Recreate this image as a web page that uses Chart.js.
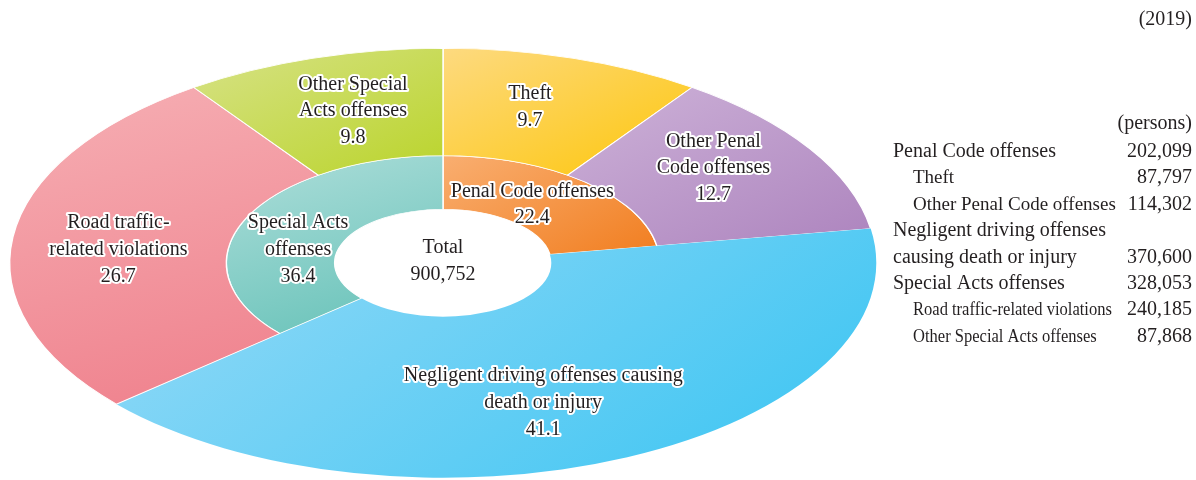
<!DOCTYPE html>
<html>
<head>
<meta charset="utf-8">
<title>Offenders by offense type (2019)</title>
<script src="https://cdn.jsdelivr.net/npm/chart.js@4/dist/chart.umd.min.js"></script>
<style>
  html, body { margin: 0; padding: 0; background: #ffffff; }
  canvas { display: block; }
</style>
</head>
<body>
<canvas id="chart" width="1196" height="480"></canvas>
<script>
// ---- data ---------------------------------------------------------------
const yearLabel = '(2019)';
const unitLabel = '(persons)';

// outer ring: breakdown
const outerCategories = [
  'Theft',
  'Other Penal Code offenses',
  'Negligent driving offenses causing death or injury',
  'Road traffic-related violations',
  'Other Special Acts offenses'
];
const outerValues = [87797, 114302, 370600, 240185, 87868];

// inner ring: main groups
const innerCategories = [
  'Penal Code offenses',
  'Negligent driving offenses causing death or injury',
  'Special Acts offenses'
];
const innerValues = [202099, 370600, 328053];

// text shown on each slice (percentage line is appended)
const outerLabelLines = [
  ['Theft'],
  ['Other Penal', 'Code offenses'],
  ['Negligent driving offenses causing', 'death or injury'],
  ['Road traffic-', 'related violations'],
  ['Other Special', 'Acts offenses']
];
const innerLabelLines = [
  ['Penal Code offenses'],
  null,
  ['Special Acts', 'offenses']
];

// side table
const tableRows = [
  { text: 'Penal Code offenses',             value: innerValues[0], level: 0 },
  { text: 'Theft',                           value: outerValues[0], level: 1 },
  { text: 'Other Penal Code offenses',       value: outerValues[1], level: 1 },
  { text: 'Negligent driving offenses',      value: null,           level: 0 },
  { text: 'causing death or injury',         value: innerValues[1], level: 0 },
  { text: 'Special Acts offenses',           value: innerValues[2], level: 0 },
  { text: 'Road traffic-related violations', value: outerValues[3], level: 2 },
  { text: 'Other Special Acts offenses',     value: outerValues[4], level: 2 }
];

// ---- styling ------------------------------------------------------------
const SHARED = 'Negligent driving offenses causing death or injury';
const palette = {
  'Theft':                        ['#FDDA80', '#FDC60A'],
  'Other Penal Code offenses':    ['#CDB2D8', '#AD84BE'],
  [SHARED]:                       ['#97DAF7', '#38C4F2'],
  'Road traffic-related violations': ['#F6AFB4', '#EF7F8B'],
  'Other Special Acts offenses':  ['#D7E287', '#BAD42B'],
  'Penal Code offenses':          ['#F9AE70', '#F17E20'],
  'Special Acts offenses':        ['#AEDEDA', '#64C1B7']
};
const STRETCH = 2.0186;        // horizontal stretch turning the ring into an ellipse
const CUTOUT = 0.25;           // hole radius as a share of the outer radius
const TEXT = '#231F20';
const FONT = '"Liberation Serif", "Times New Roman", serif';
const LINE_H = 26.6;
const labelNudge = {
  0: [[-11, -2.5], [-5, -9.5], [-38, -6], [-2, 6], [8, 1.5]],
  1: [[-16, 3], [0, 0], [3, 20]]
};

const grandTotal = outerValues.reduce((a, b) => a + b, 0);
const fmt = v => v.toLocaleString('en-US');
const pct = v => (v / grandTotal * 100).toFixed(1);

// bounding box of a slice in the un-stretched drawing space
function sliceBox(chart, dsIndex, index) {
  const a = chart.chartArea;
  const cx = (a.left + a.right) / 2, cy = (a.top + a.bottom) / 2;
  const R = Math.min(a.width, a.height) / 2;
  const hole = R * CUTOUT;
  const u = (R - hole) / 3;
  const ds = chart.data.datasets[dsIndex];
  const name = ds.categories[index];
  let r0, r1;
  if (name === SHARED) { r0 = hole; r1 = R; }
  else if (dsIndex === 0) { r0 = hole + u; r1 = R; }
  else { r0 = hole; r1 = hole + u; }
  const vals = ds.data;
  const tot = vals.reduce((s, v) => s + v, 0);
  const before = vals.slice(0, index).reduce((s, v) => s + v, 0);
  const s = -Math.PI / 2 + 2 * Math.PI * before / tot;
  const e = s + 2 * Math.PI * vals[index] / tot;
  let x0 = Infinity, y0 = Infinity, x1 = -Infinity, y1 = -Infinity;
  for (let k = 0; k <= 40; k++) {
    const t = s + (e - s) * k / 40;
    for (const r of [r0, r1]) {
      const x = cx + r * Math.cos(t), y = cy + r * Math.sin(t);
      x0 = Math.min(x0, x); y0 = Math.min(y0, y);
      x1 = Math.max(x1, x); y1 = Math.max(y1, y);
    }
  }
  return { x0, y0, x1, y1 };
}

function sliceFill(context) {
  const chart = context.chart;
  const name = context.dataset.categories[context.dataIndex];
  const [light, deep] = palette[name];
  if (!chart.chartArea) return deep;
  const b = sliceBox(chart, context.datasetIndex, context.dataIndex);
  const g = chart.ctx.createLinearGradient(b.x0, b.y0, b.x1, b.y1);
  g.addColorStop(0, light);
  g.addColorStop(1, deep);
  return g;
}

function sliceBorder(context) {
  const name = context.dataset.categories[context.dataIndex];
  return name === SHARED ? 0 : 0.7;
}

// stretch the rings horizontally around the centre; the slice shared by
// both rings gets its ring boundary filled so it reads as one shape
const ellipsePlugin = {
  id: 'ellipse',
  beforeDatasetsDraw(chart) {
    const a = chart.chartArea;
    const cx = (a.left + a.right) / 2;
    const ctx = chart.ctx;
    ctx.save();
    ctx.translate(cx, 0);
    ctx.scale(STRETCH, 1);
    ctx.translate(-cx, 0);
  },
  afterDatasetsDraw(chart) {
    const ctx = chart.ctx;
    const outer = chart.getDatasetMeta(0);
    outer.data.forEach((arc, i) => {
      if (chart.data.datasets[0].categories[i] !== SHARED) return;
      const p = arc.getProps(['x', 'y', 'startAngle', 'endAngle', 'innerRadius'], true);
      ctx.beginPath();
      ctx.arc(p.x, p.y, p.innerRadius, p.startAngle + 0.008, p.endAngle - 0.008);
      ctx.lineWidth = 1.6;
      ctx.lineCap = 'butt';
      ctx.strokeStyle = arc.options.backgroundColor;
      ctx.stroke();
    });
    ctx.restore();
  }
};

function haloText(ctx, text, x, y) {
  ctx.lineWidth = 4;
  ctx.lineJoin = 'round';
  ctx.strokeStyle = '#ffffff';
  ctx.strokeText(text, x, y);
  ctx.fillStyle = TEXT;
  ctx.fillText(text, x, y);
}

// slice labels, centre total and the side table
const labelsPlugin = {
  id: 'sliceLabels',
  afterDraw(chart) {
    const ctx = chart.ctx;
    ctx.save();
    ctx.font = '20px ' + FONT;
    ctx.textAlign = 'center';
    ctx.textBaseline = 'middle';
    [outerLabelLines, innerLabelLines].forEach((lineSets, dsIndex) => {
      const meta = chart.getDatasetMeta(dsIndex);
      meta.data.forEach((arc, i) => {
        if (!lineSets[i]) return;
        const p = arc.getProps(['x', 'y', 'startAngle', 'endAngle', 'innerRadius', 'outerRadius'], true);
        const mid = (p.startAngle + p.endAngle) / 2;
        const r = (p.innerRadius + p.outerRadius) / 2;
        const [dx, dy] = labelNudge[dsIndex][i];
        const x = p.x + STRETCH * r * Math.cos(mid) + dx;
        const y = p.y + r * Math.sin(mid) + dy;
        const lines = lineSets[i].concat([pct(chart.data.datasets[dsIndex].data[i])]);
        const top = y - (lines.length - 1) * LINE_H / 2;
        lines.forEach((t, k) => haloText(ctx, t, x, top + k * LINE_H));
      });
    });

    // total inside the hole
    const c = chart.getDatasetMeta(0).data[0];
    ctx.fillStyle = TEXT;
    ctx.fillText('Total', c.x, c.y - 15);
    ctx.fillText(fmt(grandTotal), c.x, c.y + 12);

    // side table
    const right = 1192;
    ctx.textBaseline = 'alphabetic';
    ctx.textAlign = 'right';
    ctx.font = '20px ' + FONT;
    ctx.fillText(yearLabel, right, 25);
    ctx.fillText(unitLabel, right, 129);
    tableRows.forEach((row, k) => {
      const y = 157 + k * 26.4;
      const size = row.level === 0 ? 20 : 19;
      const x = row.level === 0 ? 893 : 913;
      ctx.font = size + 'px ' + FONT;
      ctx.textAlign = 'left';
      if (row.level === 2) {
        ctx.save();
        ctx.translate(x, y);
        ctx.scale(0.87, 1);
        ctx.fillText(row.text, 0, 0);
        ctx.restore();
      } else {
        ctx.fillText(row.text, x, y);
      }
      if (row.value !== null) {
        ctx.font = '20px ' + FONT;
        ctx.textAlign = 'right';
        ctx.fillText(fmt(row.value), right, y);
      }
    });
    ctx.restore();
  }
};

new Chart(document.getElementById('chart'), {
  type: 'doughnut',
  data: {
    labels: outerCategories,
    datasets: [
      {
        categories: outerCategories,
        data: outerValues,
        weight: 2,
        backgroundColor: sliceFill,
        borderColor: '#ffffff',
        borderWidth: sliceBorder,
        clip: false
      },
      {
        categories: innerCategories,
        data: innerValues,
        weight: 1,
        backgroundColor: sliceFill,
        borderColor: '#ffffff',
        borderWidth: sliceBorder,
        clip: false
      }
    ]
  },
  options: {
    responsive: false,
    animation: false,
    events: [],
    cutout: (CUTOUT * 100) + '%',
    layout: { padding: { left: 228, right: 538, top: 48, bottom: 2 } },
    plugins: {
      legend: { display: false },
      tooltip: { enabled: false }
    }
  },
  plugins: [ellipsePlugin, labelsPlugin]
});
</script>
</body>
</html>
